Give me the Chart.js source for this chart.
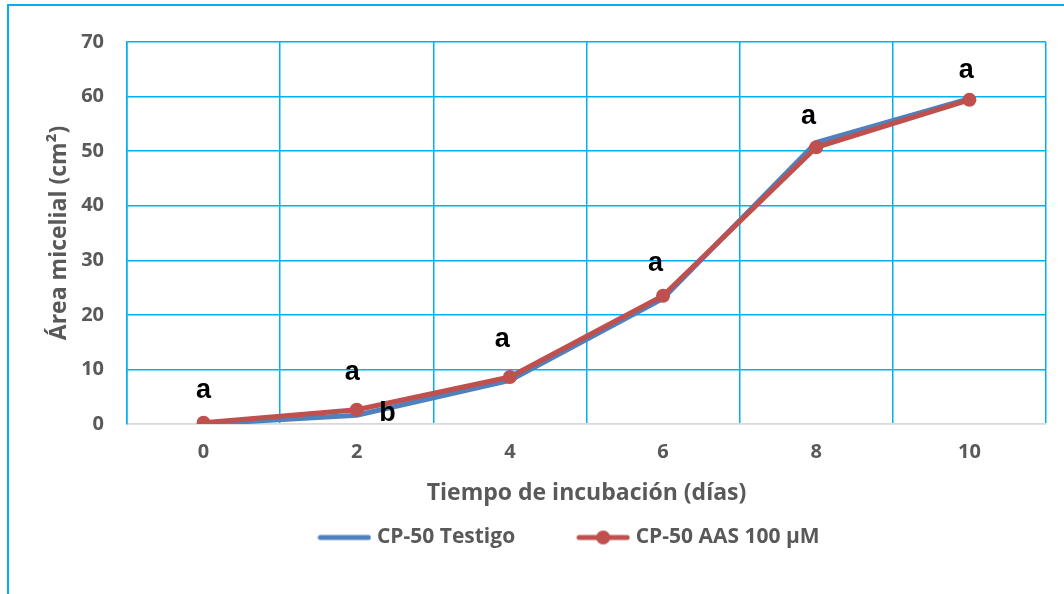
<!DOCTYPE html>
<html>
<head>
<meta charset="utf-8">
<script src="https://cdn.jsdelivr.net/npm/chart.js@4"></script>
<style>
  html, body { margin: 0; padding: 0; background: #fff; }
  #wrap { position: relative; width: 1064px; height: 594px; overflow: hidden; }
  #frame {
    position: absolute; left: 7px; top: 4px; width: 1200px; height: 700px;
    border-left: 2px solid #00B0F0; border-top: 2px solid #00B0F0;
    pointer-events: none;
  }
</style>
</head>
<body>
<div id="wrap">
  <canvas id="chart" width="1064" height="594"></canvas>
  <div id="frame"></div>
</div>
<script>
// days of incubation (categories)
const days = ['0', '2', '4', '6', '8', '10'];

// mycelial area, cm2
const testigo = [0, 1.6, 8.0, 23.0, 51.6, 59.6];
const aas100 = [0.25, 2.6, 8.6, 23.5, 50.7, 59.4];

const seriesNames = ['CP-50 Testigo', 'CP-50 AAS 100 µM'];

// significance letters: text, x (category index), y (value)
const letterText = ['a', 'a', 'b', 'a', 'a', 'a', 'a'];
const letterX = [0, 0.97, 1.2, 1.95, 2.95, 3.95, 4.98];
const letterY = [6.2, 9.5, 2.0, 15.4, 29.4, 56.3, 64.7];

const BLUE = '#4F81BD';
const RED = '#C0504D';
const GRID = '#00B0F0';
const TEXT = '#595959';
const FONT = "'Open Sans', Lato, sans-serif";

// little canvas used as legend sample (line, optional dot)
function legendSample(color, dot) {
  const c = document.createElement('canvas');
  c.width = 54;
  c.height = 16;
  const g = c.getContext('2d');
  g.strokeStyle = color;
  g.lineWidth = 5;
  g.lineCap = 'round';
  g.beginPath();
  g.moveTo(3, 8);
  g.lineTo(51, 8);
  g.stroke();
  if (dot) {
    g.fillStyle = color;
    g.beginPath();
    g.arc(27, 8, 7, 0, Math.PI * 2);
    g.fill();
  }
  return c;
}

const letters = {
  id: 'letters',
  afterDatasetsDraw(chart) {
    const { ctx, scales: { x, y } } = chart;
    ctx.save();
    ctx.font = "bold 27px 'Liberation Sans', Arial, sans-serif";
    ctx.fillStyle = '#000';
    ctx.textAlign = 'center';
    ctx.textBaseline = 'middle';
    letterText.forEach((t, i) => {
      ctx.fillText(t, x.getPixelForValue(letterX[i]), y.getPixelForValue(letterY[i]));
    });
    ctx.restore();
  },
};

// move the legend a bit to the right, like the original
const legendShift = {
  id: 'legendShift',
  afterLayout(chart) {
    chart.legend.left += 25;
    chart.legend.right += 25;
  },
};

new Chart(document.getElementById('chart'), {
  type: 'line',
  data: {
    labels: days,
    datasets: [
      {
        label: seriesNames[0],
        data: testigo,
        borderColor: BLUE,
        backgroundColor: BLUE,
        borderWidth: 5,
        pointRadius: 0,
        pointHoverRadius: 0,
        order: 1,
      },
      {
        label: seriesNames[1],
        data: aas100,
        borderColor: RED,
        backgroundColor: RED,
        borderWidth: 5,
        pointRadius: 7,
        pointBorderWidth: 0,
        pointBackgroundColor: RED,
        order: 0,
      },
    ],
  },
  options: {
    responsive: false,
    animation: false,
    layout: {
      padding: { left: 46, right: 18, top: 42, bottom: 36 },
    },
    plugins: {
      tooltip: { enabled: false },
      legend: {
        position: 'bottom',
        labels: {
          usePointStyle: true,
          pointStyleWidth: 44,
          padding: 66,
          color: TEXT,
          font: { family: FONT, size: 21, weight: 'bold' },
          generateLabels: () => [
            { text: seriesNames[0], pointStyle: legendSample(BLUE, false), lineWidth: 0, fontColor: TEXT, datasetIndex: 0 },
            { text: seriesNames[1], pointStyle: legendSample(RED, true), lineWidth: 0, fontColor: TEXT, datasetIndex: 1 },
          ],
        },
      },
    },
    scales: {
      x: {
        offset: true,
        grid: {
          offset: true,
          color: GRID,
          lineWidth: 1.5,
          drawTicks: false,
        },
        border: { color: '#D9D9D9', width: 1.5 },
        ticks: {
          padding: 16,
          color: TEXT,
          font: { family: FONT, size: 20, weight: 'bold' },
        },
        title: {
          display: true,
          text: 'Tiempo de incubación (días)',
          color: TEXT,
          font: { family: FONT, size: 23, weight: 'bold' },
          padding: { top: 0, bottom: -46 },
        },
        afterFit(scale) {
          scale.height = 37;
        },
      },
      y: {
        min: 0,
        max: 70,
        grid: {
          color: (c) => (c.tick && c.tick.value === 0 ? '#D9D9D9' : GRID),
          lineWidth: 1.5,
          drawTicks: false,
        },
        border: { color: GRID, width: 1.5 },
        ticks: {
          stepSize: 10,
          padding: 23,
          color: TEXT,
          font: { family: FONT, size: 20, weight: 'bold' },
        },
        title: {
          display: true,
          text: 'Área micelial (cm²)',
          color: TEXT,
          font: { family: FONT, size: 23, weight: 'bold' },
          padding: 0,
        },
        afterFit(scale) {
          scale.width = 81;
        },
      },
    },
  },
  plugins: [letters, legendShift],
});
</script>
</body>
</html>
